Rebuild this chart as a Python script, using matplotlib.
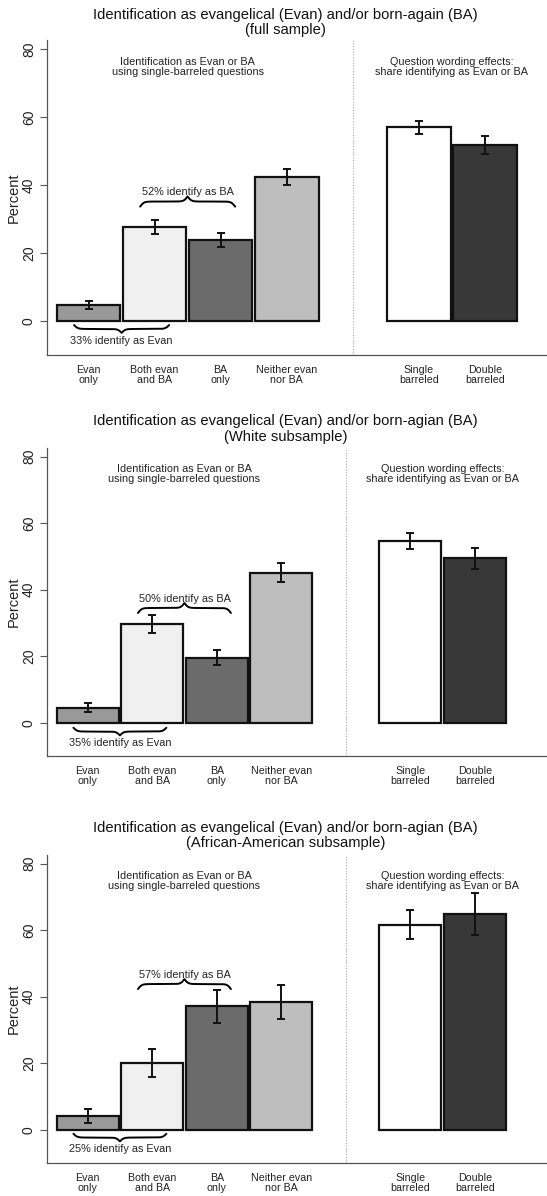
import numpy as np
import matplotlib
matplotlib.use("Agg")
import matplotlib.pyplot as plt

plt.rcParams['font.family'] = ['Liberation Sans', 'DejaVu Sans']

categories = ["Evan\nonly", "Both evan\nand BA", "BA\nonly", "Neither evan\nnor BA",
              "Single\nbarreled", "Double\nbarreled"]

# percent identifying, with half-width of the confidence interval
full_pct = [4.7, 27.7, 23.8, 42.3, 56.9, 51.8]
full_err = [1.1, 2.1, 2.0, 2.3, 1.9, 2.7]
white_pct = [4.5, 29.7, 19.6, 45.1, 54.6, 49.4]
white_err = [1.3, 2.6, 2.3, 2.8, 2.4, 3.2]
black_pct = [4.2, 20.1, 37.1, 38.3, 61.6, 65.0]
black_err = [2.1, 4.2, 5.0, 5.1, 4.4, 6.3]

evan_share = [33, 35, 25]
ba_share = [52, 50, 57]

titles = [
    "Identification as evangelical (Evan) and/or born-again (BA)\n(full sample)",
    "Identification as evangelical (Evan) and/or born-agian (BA)\n(White subsample)",
    "Identification as evangelical (Evan) and/or born-agian (BA)\n(African-American subsample)",
]

fills = ['#999999', '#f0f0f0', '#6b6b6b', '#bebebe', '#ffffff', '#383838']
xpos = [1, 2, 3, 4, 6, 7]


def brace(ax, x0, x1, y, h, up=True, beta=35):
    n = 301
    xs = np.linspace(x0, x1, n)
    half = xs[:n // 2 + 1]
    yh = (1 / (1 + np.exp(-beta * (half - half[0])))
          + 1 / (1 + np.exp(-beta * (half - half[-1]))))
    yy = np.concatenate([yh, yh[-2::-1]]) - 0.5
    sign = 1 if up else -1
    ax.plot(xs, y + sign * h * yy, color='black', lw=1.4, clip_on=False,
            solid_capstyle='round')


fig = plt.figure(figsize=(5.47, 11.96), dpi=100)

# axes rectangles, title heights, brace heights for each sample
rects = [[0.0859, 0.7032, 0.933, 0.2634],
         [0.0859, 0.3679, 0.912, 0.2575],
         [0.0859, 0.0276, 0.912, 0.2575]]
title_y = [0.9812, 0.6413, 0.3014]
ba_brace = [33.6, 33.0, 42.3]
evan_brace = [-1.2, -1.5, -1.2]

samples = [(full_pct, full_err), (white_pct, white_err), (black_pct, black_err)]

for i, (pct, err) in enumerate(samples):
    ax = fig.add_axes(rects[i])
    ax.bar(xpos, pct, width=0.965, color=fills, edgecolor='#111111', linewidth=1.6, zorder=2)
    ax.errorbar(xpos, pct, yerr=err, fmt='none', ecolor='#111111', elinewidth=1.4,
                capsize=2.6, capthick=1.4, zorder=3)

    ax.set_xlim(0.37, 8.1)
    ax.set_ylim(-10, 82.6)
    ax.axvline(5, color='#aaaaaa', linestyle=(0, (1, 1.5)), lw=0.8, zorder=1)

    for s in ['top', 'right']:
        ax.spines[s].set_visible(False)
    for s in ['left', 'bottom']:
        ax.spines[s].set_color('#555555')
        ax.spines[s].set_linewidth(0.9)

    ax.set_yticks([0, 20, 40, 60, 80])
    ax.set_yticklabels(['0', '20', '40', '60', '80'], rotation=90, va='center',
                       fontsize=10, color='#222222')
    ax.tick_params(axis='y', length=5, width=0.8, color='#555555', pad=3)
    ax.set_xticks(xpos)
    ax.set_xticklabels(categories, fontsize=7.7, linespacing=1.0, color='#222222')
    ax.tick_params(axis='x', length=0, pad=7)
    ax.set_ylabel('Percent', fontsize=10.5, color='#222222')
    ax.yaxis.set_label_coords(-0.052, 0.5)

    ax.text(2.5, 74.7, "Identification as Evan or BA\nusing single-barreled questions",
            ha='center', va='center', fontsize=7.8, linespacing=1.05, color='#222222')
    ax.text(6.5, 74.7, "Question wording effects:\nshare identifying as Evan or BA",
            ha='center', va='center', fontsize=7.8, linespacing=1.05, color='#222222')

    brace(ax, 1.78, 3.22, ba_brace[i], 3.0, up=True)
    ax.text(2.5, ba_brace[i] + 4.2, f"{ba_share[i]}% identify as BA",
            ha='center', va='center', fontsize=7.8, color='#222222')
    brace(ax, 0.78, 2.22, evan_brace[i], 2.3, up=False)
    ax.text(1.5, evan_brace[i] - 4.6, f"{evan_share[i]}% identify as Evan",
            ha='center', va='center', fontsize=7.8, color='#222222')

    fig.text(0.522, title_y[i], titles[i], ha='center', va='center',
             fontsize=10.6, linespacing=1.1, color='#111111')

fig.savefig('out.png', dpi=100)
